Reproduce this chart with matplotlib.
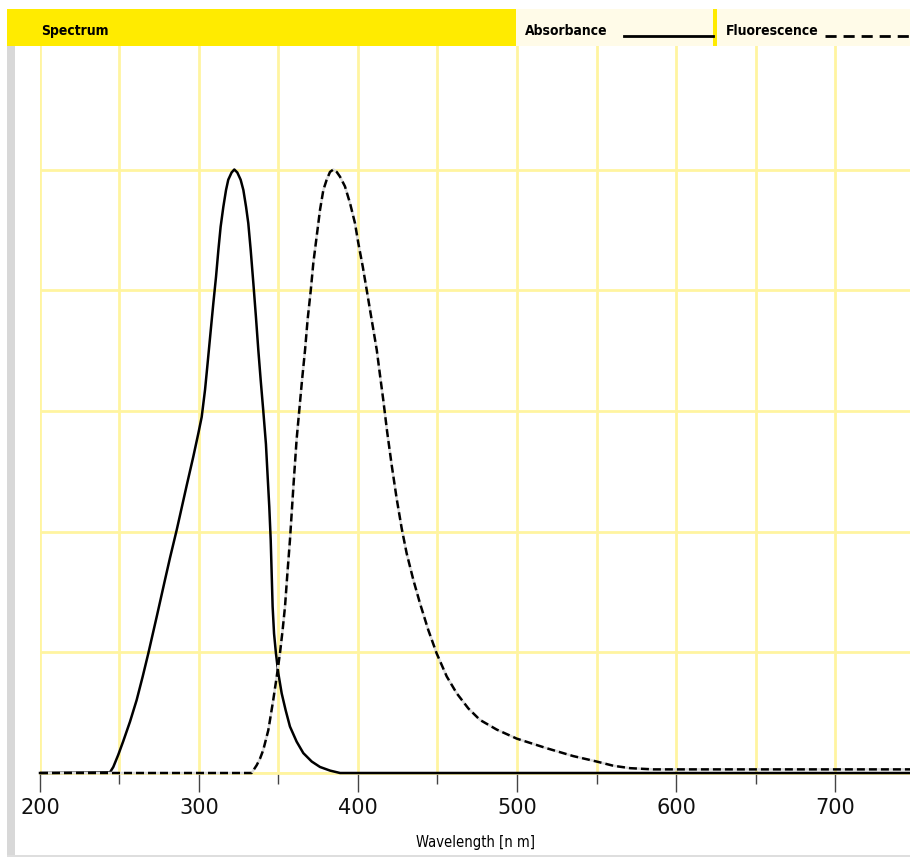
import matplotlib.pyplot as plt
from matplotlib.patches import Rectangle
from matplotlib.ticker import MultipleLocator

# wavelength (nm) and normalised absorbance
abs_wl = [200, 244.0, 246.1, 249.2, 252.4, 256.6, 260.8, 264.6, 268.1, 273.4,
          278.6, 281.8, 286.0, 292.3, 296.4, 299.6, 301.7, 303.8, 305.2, 307.4,
          309.0, 310.7, 312.2, 313.6, 315.3, 317.0, 318.4, 320.5, 322.2, 324.1,
          326.2, 327.9, 329.6, 331.0, 332.5, 334.2, 335.8, 337.3, 338.8, 340.4,
          342.1, 343.0, 344.2, 345.1, 345.7, 346.3, 347.2, 348.4, 349.9, 352.0,
          354.5, 357.2, 361.4, 365.6, 370.9, 376.1, 382.4, 388.7, 750]
abs_val = [0, 0.001, 0.010, 0.030, 0.053, 0.085, 0.121, 0.160, 0.198, 0.259,
           0.320, 0.357, 0.403, 0.477, 0.524, 0.563, 0.590, 0.635, 0.673, 0.734,
           0.778, 0.822, 0.867, 0.905, 0.938, 0.966, 0.983, 0.995, 1.0, 0.995,
           0.983, 0.966, 0.938, 0.911, 0.867, 0.811, 0.756, 0.701, 0.651, 0.601,
           0.545, 0.500, 0.441, 0.386, 0.331, 0.276, 0.231, 0.198, 0.165, 0.132,
           0.104, 0.077, 0.052, 0.033, 0.019, 0.010, 0.004, 0.0, 0.0]

# wavelength (nm) and normalised fluorescence
fl_wl = [200, 333.1, 336.3, 338.4, 340.4, 343.6, 346.7, 348.9, 350.9, 352.6,
         354.1, 355.6, 357.2, 359.5, 361.4, 363.1, 364.8, 366.7, 368.3, 370.3,
         371.9, 374.0, 376.1, 378.2, 380.3, 382.4, 384.5, 386.6, 388.7, 391.8,
         395.0, 398.1, 400.2, 403.0, 405.5, 408.6, 411.8, 413.8, 415.9, 418.3,
         421.2, 424.3, 427.5, 430.6, 434.8, 439.0, 444.2, 449.5, 455.8, 462.1,
         469.4, 476.7, 487.2, 499.8, 518.7, 535.4, 550.1, 560.6, 571.1, 585.7,
         602.5, 750]
fl_val = [0, 0, 0.013, 0.024, 0.038, 0.071, 0.121, 0.160, 0.198, 0.237,
          0.276, 0.331, 0.386, 0.480, 0.553, 0.602, 0.651, 0.701, 0.751, 0.800,
          0.845, 0.889, 0.933, 0.966, 0.983, 0.996, 1.0, 0.996, 0.988, 0.972,
          0.944, 0.911, 0.878, 0.839, 0.800, 0.751, 0.701, 0.660, 0.618, 0.566,
          0.510, 0.455, 0.405, 0.364, 0.320, 0.281, 0.237, 0.198, 0.160, 0.132,
          0.107, 0.088, 0.072, 0.057, 0.041, 0.028, 0.019, 0.012, 0.008, 0.006,
          0.006, 0.006]

x_ticks = [200, 300, 400, 500, 600, 700]
header_labels = ["Spectrum", "Absorbance", "Fluorescence"]

W, H = 910, 857
cond = dict(family='DejaVu Sans', fontstretch='condensed')

fig = plt.figure(figsize=(W / 100, H / 100), dpi=100)

# main plot area in pixel terms: left 40, right 910, top 46, bottom 773
ax = fig.add_axes([40 / W, 1 - 773 / H, 870 / W, (773 - 46) / H])
grid_col = '#fff4a0'
ax.set_xlim(200, 200 + 870 / 1.59)
ax.set_ylim(0, (773 - 46) / 603.5)
ax.set_xticks(x_ticks)
ax.xaxis.set_minor_locator(MultipleLocator(50))
ax.set_yticks([0, 0.2, 0.4, 0.6, 0.8, 1.0])
ax.set_yticklabels([])
ax.tick_params(axis='y', length=0)
ax.tick_params(axis='x', which='major', length=14, width=1, color='#444444',
               labelsize=15, pad=4)
ax.tick_params(axis='x', which='minor', length=8, width=1, color='#444444')
ax.grid(True, which='both', color=grid_col, lw=2)
ax.set_axisbelow(True)
for s in ['top', 'right', 'left']:
    ax.spines[s].set_visible(False)
ax.spines['bottom'].set_color(grid_col)
ax.spines['bottom'].set_linewidth(2)
for lab in ax.get_xticklabels():
    lab.set_color('#111111')

ax.plot(abs_wl, abs_val, color='black', lw=1.8, clip_on=False, zorder=3)
ax.plot(fl_wl, fl_val, color='black', lw=1.8, linestyle=(0, (3.2, 1.6)),
        gapcolor='#dcdcdc', clip_on=False, zorder=4)

ax.set_xlabel("Wavelength [n m]", fontsize=10.5, labelpad=12, **cond)

# overlay in pixel coordinates for the frame
ov = fig.add_axes([0, 0, 1, 1], zorder=-1)
ov.set_xlim(0, W)
ov.set_ylim(H, 0)
ov.axis('off')
ov.add_patch(Rectangle((7, 46), 7.5, H - 46, color='#d8d8d8', lw=0))
ov.add_patch(Rectangle((7, 855), W - 7, 2, color='#dedede', lw=0))

# header band
top = fig.add_axes([0, 0, 1, 1], zorder=5)
top.set_xlim(0, W)
top.set_ylim(H, 0)
top.axis('off')
top.patch.set_alpha(0)
top.add_patch(Rectangle((7, 9), 509, 37, color='#ffeb00', lw=0))
top.add_patch(Rectangle((516, 9), W - 516, 37, color='#fffbe8', lw=0))
top.add_patch(Rectangle((713, 9), 4, 37, color='#ffeb00', lw=0))
top.text(41, 31, header_labels[0], fontsize=10, fontweight='bold', va='center', **cond)
top.text(525, 31, header_labels[1], fontsize=10, fontweight='bold', va='center', **cond)
top.text(726, 31, header_labels[2], fontsize=10, fontweight='bold', va='center', **cond)
top.plot([624, 713], [36, 36], color='black', lw=2)
top.plot([825, W], [36, 36], color='black', lw=2, linestyle=(0, (4, 2.5)))

fig.savefig('out.png', dpi=100)
